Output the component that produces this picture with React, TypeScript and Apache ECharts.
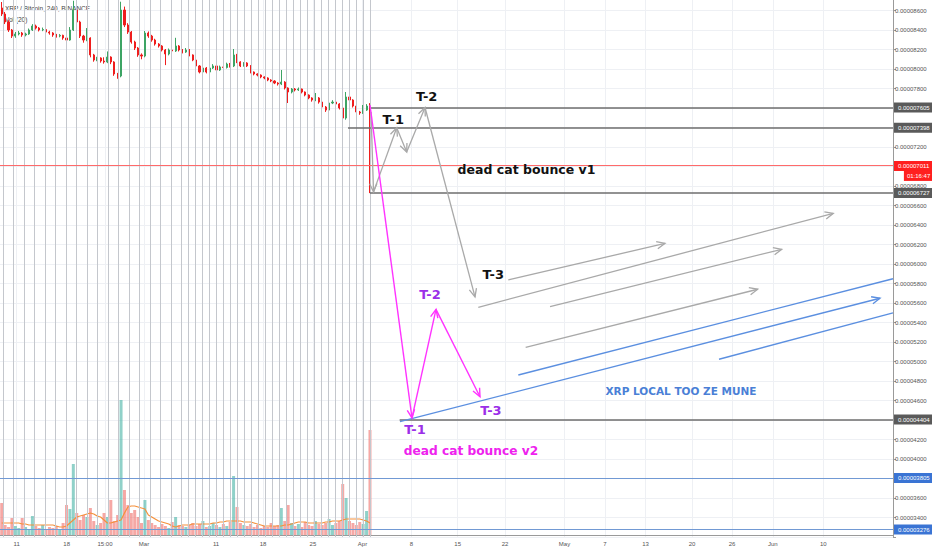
import React, { useEffect, useRef } from 'react';
import * as echarts from 'echarts';

// x unit: days after 1 Feb 2019 (bars are 12h); y unit: satoshi (1e-8 BTC)
const FIRST_BAR_DAY = 6.75;
const BAR_STEP_DAYS = 0.5;

// [open, close, low, high] in satoshi
const candles: number[][] = [
  [8626, 8564, 8544, 8687], [8564, 8482, 8461, 8585], [8482, 8400, 8380, 8500], [8400, 8338, 8318, 8410],
  [8338, 8359, 8320, 8380], [8359, 8369, 8345, 8390], [8369, 8349, 8330, 8380], [8349, 8359, 8335, 8372],
  [8359, 8400, 8350, 8415], [8400, 8441, 8390, 8460], [8441, 8420, 8405, 8455], [8420, 8400, 8385, 8430],
  [8400, 8405, 8388, 8425], [8405, 8379, 8365, 8415], [8379, 8369, 8352, 8392], [8369, 8349, 8330, 8378],
  [8349, 8338, 8322, 8360], [8338, 8345, 8325, 8358], [8345, 8318, 8300, 8352], [8318, 8297, 8154, 8330],
  [8297, 8400, 8290, 8430], [8400, 8605, 8390, 8700], [8605, 8482, 8470, 8640], [8482, 8338, 8318, 8495],
  [8338, 8297, 8270, 8350], [8297, 8318, 8285, 8420], [8318, 8144, 8120, 8325], [8144, 8092, 8075, 8155],
  [8092, 8113, 8080, 8125], [8113, 8082, 8065, 8120], [8082, 8072, 8055, 8120], [8072, 8123, 8060, 8180],
  [8123, 8072, 8050, 8130], [8072, 7949, 7930, 8080], [7949, 7928, 7900, 7960], [7928, 8605, 7915, 8690],
  [8605, 8451, 8430, 8640], [8451, 8379, 8360, 8470], [8379, 8277, 8260, 8390], [8277, 8215, 8195, 8290],
  [8215, 8144, 8125, 8225], [8144, 8133, 8100, 8160], [8133, 8369, 8120, 8390], [8369, 8338, 8320, 8385],
  [8338, 8297, 8280, 8350], [8297, 8256, 8240, 8310], [8256, 8236, 8220, 8265], [8236, 8195, 8180, 8245],
  [8195, 8154, 8040, 8205], [8154, 8195, 8140, 8210], [8195, 8185, 8170, 8205], [8185, 8236, 8175, 8320],
  [8236, 8195, 8180, 8245], [8195, 8174, 8160, 8205], [8174, 8195, 8165, 8215], [8195, 8144, 8130, 8205],
  [8144, 8092, 8080, 8150], [8092, 8031, 8015, 8100], [8031, 7969, 7955, 8040], [7969, 8010, 7955, 8092],
  [8010, 7969, 7955, 8020], [7969, 8010, 7960, 8025], [8010, 8031, 8000, 8050], [8031, 7990, 7975, 8040],
  [7990, 8021, 7980, 8035], [8021, 8015, 8000, 8030], [8015, 8051, 8005, 8065], [8051, 8031, 8015, 8062],
  [8031, 8144, 8020, 8205], [8144, 8072, 8060, 8155], [8072, 8031, 8020, 8080], [8031, 8062, 8025, 8070],
  [8062, 8031, 8020, 8070], [8031, 7969, 7955, 8040], [7969, 7949, 7935, 7975], [7949, 7938, 7925, 7955],
  [7938, 7918, 7905, 7945], [7918, 7908, 7895, 7925], [7908, 7887, 7875, 7915], [7887, 7877, 7865, 7895],
  [7877, 7856, 7845, 7885], [7856, 7846, 7830, 7865], [7846, 7866, 7835, 7990], [7866, 7805, 7790, 7875],
  [7805, 7764, 7651, 7812], [7764, 7795, 7750, 7805], [7795, 7785, 7770, 7805], [7785, 7795, 7775, 7810],
  [7795, 7764, 7750, 7800], [7764, 7733, 7720, 7770], [7733, 7703, 7690, 7740], [7703, 7682, 7665, 7710],
  [7682, 7703, 7670, 7754], [7703, 7661, 7645, 7712], [7661, 7610, 7595, 7670], [7610, 7579, 7560, 7620],
  [7579, 7651, 7570, 7665], [7651, 7661, 7640, 7680], [7661, 7641, 7625, 7670], [7641, 7600, 7585, 7650],
  [7600, 7497, 7395, 7610], [7497, 7713, 7480, 7764], [7713, 7682, 7670, 7725], [7682, 7620, 7605, 7690],
  [7620, 7559, 7545, 7630], [7559, 7549, 7530, 7570], [7549, 7579, 7540, 7631], [7579, 7620, 7570, 7640],
  [7620, 7011, 6727, 7650],
];

// volume (relative units) and its 20-period average
const volumes = [
  32, 10, 8, 17, 9, 7, 17, 8, 6, 19, 9, 7, 10, 6, 8, 7, 9, 6, 12, 30,
  26, 71, 22, 15, 20, 18, 27, 14, 10, 12, 22, 18, 35, 14, 20, 135, 45, 30, 22, 25,
  18, 12, 35, 15, 12, 10, 8, 11, 9, 7, 13, 18, 10, 9, 8, 10, 12, 9, 11, 14,
  8, 9, 12, 10, 8, 11, 9, 13, 59, 28, 12, 10, 9, 11, 8, 10, 7, 9, 8, 12,
  9, 10, 27, 14, 30, 12, 9, 11, 8, 13, 10, 9, 14, 11, 10, 12, 16, 10, 12, 14,
  51, 37, 14, 12, 10, 13, 11, 24, 105,
];
const volumeMA = [
  12, 12, 12, 12, 12, 12, 11, 11, 10, 10, 10, 10, 10, 10, 10, 10, 9, 8, 8, 9,
  12, 15, 18, 19, 20, 21, 22, 21, 19, 18, 15, 12, 12, 13, 14, 15, 22, 28, 29, 29,
  28, 27, 26, 20, 18, 16, 14, 13, 12, 11, 9, 8, 9, 10, 10, 10, 11, 11, 11, 11,
  11, 11, 12, 12, 13, 13, 14, 14, 14, 14, 14, 13, 13, 13, 12, 11, 10, 9, 9, 9,
  9, 9, 9, 10, 10, 11, 12, 13, 13, 13, 12, 12, 12, 12, 12, 13, 13, 14, 14, 14,
  15, 16, 16, 16, 16, 16, 15, 14, 12,
];

const tickDays = [8.95, 16.28, 21.9, 27.61, 38.17, 45.06, 52.39, 59.65, 66.84, 73.61, 80.55, 89.27, 95.21, 101.15, 107.97, 113.83, 119.81, 127.22];
const tickLabels = ['11', '18', '15:00', 'Mar', '11', '18', '25', 'Apr', '8', '15', '22', 'May', '7', '13', '20', '26', 'Jun', '10'];

// vertical drawing lines over the history
const sessionLines = [
  6.94, 8.48, 10.02, 11.56, 13.1, 14.64, 16.18, 17.72, 19.26, 20.8, 22.34, 23.88, 25.41, 26.95, 28.49, 30.03, 31.57, 33.11,
  34.07, 35.1, 36.12, 37.15, 38.17, 39.2, 40.22, 41.25, 42.28, 43.3, 44.33, 45.36, 46.38, 47.41, 48.43, 49.46, 50.49,
  51.51, 52.54, 53.57, 54.59, 55.62, 56.64, 57.67, 58.7, 59.72, 60.75,
];

const greyLevels = [7605, 7398, 6727, 4404];
const greyLevelStarts = [60.75, 57.53, 60.75, 65.1];
const blueLevels = [3805, 3276];
const lastPrice = 7011;
const countdown = '01:16:47';

// drawings: [day1, price1, day2, price2, arrowHead]
const greyArrows = [
  [60.9, 7559, 61.27, 6740, 1],
  [61.27, 6740, 64.67, 7398, 1],
  [64.67, 7398, 66.13, 7149, 1],
  [66.13, 7149, 68.82, 7605, 1],
  [68.82, 7605, 76.15, 5662, 1],
  [81.03, 5836, 104.01, 6212, 1],
  [76.63, 5556, 128.68, 6520, 1],
  [87.15, 5562, 121.12, 6151, 1],
  [83.58, 5146, 117.6, 5741, 1],
];
const magentaArrows = [
  [60.75, 7631, 66.91, 4421, 1],
  [66.91, 4421, 70.43, 5535, 1],
  [70.43, 5535, 76.88, 4639, 1],
];
const blueRays = [
  [82.5, 4862, 137.44, 5849, 0],
  [65.15, 4383, 135.53, 5649, 1],
  [111.93, 5023, 137.44, 5498, 0],
];

const noteTexts = ['T-1', 'T-2', 'dead cat bounce v1', 'T-3', 'T-2', 'T-3', 'T-1', 'dead cat bounce v2', 'XRP LOCAL TOO ZE MUNE'];
const notePoints = [
  [64.17, 7484], [69.07, 7716], [83.7, 6971], [78.83, 5897],
  [69.55, 5689], [78.49, 4495], [67.35, 4305], [75.56, 4085], [106.35, 4697],
];
const noteKinds = ['t', 't', 'title', 't', 'tp', 'tp', 'tp', 'v2', 'blue'];

const X_MIN = 6.5;
const X_MAX = 137.44;
const Y_MIN = 3200;
const Y_MAX = 8800;

// the chart canvas is 9px taller than the page and shifted up, so 0.00008800 sits just above the page top
const SHIFT = 9;

const noteStyles: Record<string, { color: string; size: number }> = {
  t: { color: '#111111', size: 13 },
  title: { color: '#111111', size: 12.5 },
  tp: { color: '#9b2fe8', size: 13 },
  v2: { color: '#ee22ee', size: 12.2 },
  blue: { color: '#4a7fd6', size: 10.5 },
};

const RED_LINE = '#ff6a6a';
const GREY_LINE = '#6e6e6e';
const BLUE_LINE = '#7199d4';

const fmtPrice = (v: number) => (v / 1e8).toFixed(8);
const hiddenTicks = [3200, 3800, 4400, 7000, 7400, 7600, 8800];
const AXIS_FONT = '"Liberation Sans", Arial, sans-serif';
const NOTE_FONT = '"DejaVu Sans", Verdana, sans-serif';

function arrowRenderer(color: string, width: number) {
  return (_params: any, api: any) => {
    const a = api.coord([api.value(0), api.value(1)]);
    const b = api.coord([api.value(2), api.value(3)]);
    const children: any[] = [
      { type: 'line', shape: { x1: a[0], y1: a[1], x2: b[0], y2: b[1] }, style: { stroke: color, lineWidth: width } },
    ];
    if (api.value(4)) {
      const ang = Math.atan2(b[1] - a[1], b[0] - a[0]);
      const L = 9;
      const s = 0.42;
      const p1 = [b[0] - L * Math.cos(ang - s), b[1] - L * Math.sin(ang - s)];
      const p2 = [b[0] - L * Math.cos(ang + s), b[1] - L * Math.sin(ang + s)];
      children.push({
        type: 'polyline',
        shape: { points: [p1, [b[0], b[1]], p2] },
        style: { stroke: color, lineWidth: width, fill: null },
      });
    }
    return { type: 'group', children };
  };
}

const boxLabel = (bg: string) => ({
  show: true,
  position: 'end',
  distance: 1,
  backgroundColor: bg,
  color: '#ffffff',
  fontSize: 6,
  fontFamily: AXIS_FONT,
  padding: [2, 4, 2, 4],
});

export default function App() {
  const ref = useRef<HTMLDivElement>(null);

  useEffect(() => {
    if (!ref.current) return;
    const chart = echarts.init(ref.current, null, { renderer: 'svg' });

    const candleData = candles.map((c, i) => [FIRST_BAR_DAY + i * BAR_STEP_DAYS, c[0], c[1], c[2], c[3]]);
    const volData = volumes.map((v, i) => {
      const up = candles[i][1] >= candles[i][0];
      return {
        value: [FIRST_BAR_DAY + i * BAR_STEP_DAYS, v],
        itemStyle: { color: up ? 'rgba(70,178,165,0.6)' : 'rgba(240,110,105,0.6)' },
      };
    });
    const maData = volumeMA.map((v, i) => [FIRST_BAR_DAY + i * BAR_STEP_DAYS, v]);

    const greyLevelData = greyLevels.map((p, i) => [
      { coord: [greyLevelStarts[i], p], label: { formatter: fmtPrice(p) } },
      { coord: [X_MAX, p] },
    ]);
    const blueLevelData = blueLevels.map((p) => [
      { coord: [X_MIN, p], label: { formatter: fmtPrice(p) } },
      { coord: [X_MAX, p] },
    ]);

    const option: any = {
      animation: false,
      backgroundColor: '#ffffff',
      grid: { left: 0, right: 39, top: 0, bottom: 13, containLabel: false },
      graphic: [
        {
          type: 'text', left: 5, top: 5 + SHIFT, z: 0,
          style: { text: 'XRP / Bitcoin, 240, BINANCE', fill: '#444', fontSize: 6.5, fontFamily: AXIS_FONT },
        },
        {
          type: 'text', left: 5, top: 16 + SHIFT, z: 0,
          style: { text: 'Vol (20)', fill: '#444', fontSize: 6.5, fontFamily: AXIS_FONT },
        },
      ],
      xAxis: {
        type: 'value',
        min: X_MIN,
        max: X_MAX,
        axisLine: { show: true, lineStyle: { color: '#9a9a9a', width: 1 } },
        axisTick: { show: false, customValues: tickDays },
        axisLabel: {
          customValues: tickDays,
          fontSize: 6,
          color: '#555',
          margin: 4,
          fontFamily: AXIS_FONT,
          formatter: (v: number) => {
            const i = tickDays.findIndex((t) => Math.abs(t - v) < 1e-6);
            return i >= 0 ? tickLabels[i] : '';
          },
        },
        splitLine: { show: true, lineStyle: { color: '#eef0f4', width: 1 } },
      },
      yAxis: [
        {
          type: 'value',
          position: 'right',
          min: Y_MIN,
          max: Y_MAX,
          interval: 200,
          axisLine: { show: true, lineStyle: { color: '#9a9a9a', width: 1 } },
          axisTick: { show: true, length: 3, lineStyle: { color: '#9a9a9a' } },
          axisLabel: {
            fontSize: 6,
            color: '#555',
            margin: 2,
            fontFamily: AXIS_FONT,
            formatter: (v: number) => (hiddenTicks.includes(v) ? '' : fmtPrice(v)),
          },
          splitLine: { show: true, lineStyle: { color: '#eef0f4', width: 1 } },
        },
        { type: 'value', min: -2, max: 544, show: false },
      ],
      series: [
        {
          type: 'line',
          data: [],
          z: 1,
          silent: true,
          markLine: {
            silent: true,
            symbol: ['none', 'none'],
            label: { show: false },
            lineStyle: { color: '#c4c7cd', width: 1, type: 'solid' },
            data: sessionLines.map((d) => ({ xAxis: d })),
          },
        },
        {
          type: 'bar',
          yAxisIndex: 1,
          data: volData,
          barWidth: 3,
          z: 2,
          silent: true,
        },
        {
          type: 'line',
          yAxisIndex: 1,
          data: maData,
          symbol: 'none',
          z: 3,
          lineStyle: { color: '#f5903a', width: 1.2 },
          silent: true,
        },
        {
          type: 'candlestick',
          data: candleData,
          encode: { x: 0, y: [1, 2, 3, 4] },
          barWidth: 1.6,
          z: 4,
          silent: true,
          itemStyle: {
            color: '#3da464',
            color0: '#ef1d1d',
            borderColor: '#3da464',
            borderColor0: '#ef1d1d',
            borderWidth: 1,
          },
        },
        {
          type: 'line',
          data: [],
          z: 5,
          silent: true,
          color: RED_LINE,
          markLine: {
            silent: true,
            symbol: ['none', 'none'],
            lineStyle: { type: 'solid', color: RED_LINE, width: 1 },
            label: {
              show: true,
              position: 'end',
              distance: 1,
              formatter: '{g| }\n{p|' + fmtPrice(lastPrice) + '}\n{t|' + countdown + '}',
              rich: {
                g: { height: 11, fontSize: 6 },
                p: { backgroundColor: '#ff1f1f', color: '#fff', fontSize: 6, padding: [2, 4, 2, 4], fontFamily: AXIS_FONT },
                t: { backgroundColor: '#ff1f1f', color: '#fff', fontSize: 6, padding: [2, 3, 2, 3], fontFamily: AXIS_FONT, align: 'right' },
              },
            },
            data: [{ yAxis: lastPrice }],
          },
        },
        {
          type: 'line',
          data: [],
          z: 5,
          silent: true,
          markLine: {
            silent: true,
            symbol: ['none', 'none'],
            lineStyle: { type: 'solid', color: GREY_LINE, width: 1.6 },
            label: boxLabel('#5a5a5a'),
            data: greyLevelData,
          },
        },
        {
          type: 'line',
          data: [],
          z: 5,
          silent: true,
          markLine: {
            silent: true,
            symbol: ['none', 'none'],
            lineStyle: { type: 'solid', color: BLUE_LINE, width: 1.2 },
            label: boxLabel('#3a74d4'),
            data: blueLevelData,
          },
        },
        {
          type: 'custom',
          data: greyArrows,
          encode: { x: [0, 2], y: [1, 3] },
          renderItem: arrowRenderer('#a9a9a9', 1.3),
          z: 6,
          silent: true,
        },
        {
          type: 'custom',
          data: blueRays,
          encode: { x: [0, 2], y: [1, 3] },
          renderItem: arrowRenderer('#5b8fe0', 1.4),
          z: 6,
          silent: true,
        },
        {
          type: 'custom',
          data: magentaArrows,
          encode: { x: [0, 2], y: [1, 3] },
          renderItem: arrowRenderer('#ff33ff', 1.4),
          z: 7,
          silent: true,
        },
        {
          type: 'custom',
          data: notePoints,
          encode: { x: 0, y: 1 },
          z: 8,
          silent: true,
          renderItem: (params: any, api: any) => {
            const pt = api.coord([api.value(0), api.value(1)]);
            const st = noteStyles[noteKinds[params.dataIndex]];
            return {
              type: 'text',
              x: pt[0],
              y: pt[1],
              style: {
                text: noteTexts[params.dataIndex],
                fill: st.color,
                fontSize: st.size,
                fontWeight: 'bold',
                fontFamily: NOTE_FONT,
                align: 'center',
                verticalAlign: 'middle',
              },
            };
          },
        },
      ],
    };

    chart.setOption(option);
    return () => chart.dispose();
  }, []);

  return (
    <div
      ref={ref}
      style={{ position: 'absolute', left: 0, top: -SHIFT, width: 932, height: 550 + SHIFT, background: '#ffffff' }}
    />
  );
}
